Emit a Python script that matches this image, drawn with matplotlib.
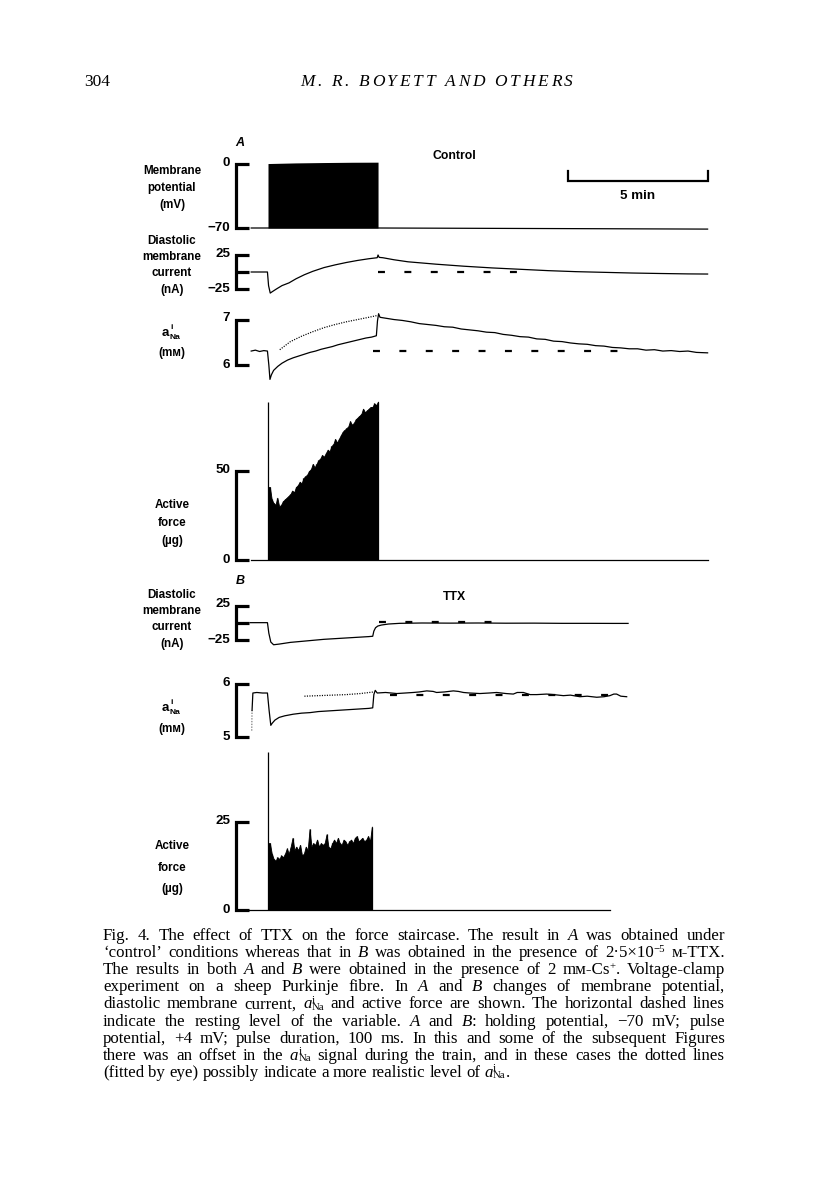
import re
import matplotlib
matplotlib.use('Agg')
import numpy as np
import matplotlib.pyplot as plt
from matplotlib.transforms import Affine2D, blended_transform_factory

plt.rcParams['lines.scale_dashes'] = False

# ---------------------------------------------------------------- data
# time in minutes from start of pulse train
# Panel A (control)
potA_t = [-0.6, 0.0, 3.93, 8.0, 12.0, 15.7]
potA_v = [-70, -70, -70, -70.4, -70.8, -71.2]
pulseA_t = [0.0, 1.0, 2.0, 3.0, 3.93]
pulseA_v = [0.5, 1.2, 1.6, 1.9, 2.0]

curA_t = [-0.6, -0.02, 0.02, 0.08, 0.15, 0.3, 0.5, 0.75, 1.0, 1.3,
          1.6, 2.0, 2.4, 2.8, 3.2, 3.6, 3.9, 3.93, 3.97, 4.1,
          4.5, 5.0, 6.0, 7.0, 8.0, 9.0, 10.0, 11.0, 12.0, 13.0,
          14.0, 15.0, 15.7]
curA_v = [0, 0, -20, -31, -29, -25, -20, -16, -10, -4,
          1, 6.5, 10.5, 14, 17, 19.5, 21, 25, 21.5, 21,
          18, 15, 11.5, 8.5, 6, 4, 2, 0.5, -0.5, -1.5,
          -2.2, -2.8, -3]

naA_t = [-0.6, -0.45, -0.3, -0.15, -0.02, 0.03, 0.07, 0.12, 0.2, 0.35,
         0.5, 0.7, 0.9, 1.1, 1.3, 1.5, 1.7, 1.9, 2.1, 2.3,
         2.5, 2.7, 2.9, 3.1, 3.3, 3.5, 3.7, 3.87, 3.91, 3.95,
         4.0, 4.2, 4.5, 4.8, 5.1, 5.4, 5.7, 6.0, 6.3, 6.6,
         6.9, 7.2, 7.5, 7.8, 8.1, 8.4, 8.7, 9.0, 9.3, 9.6,
         9.9, 10.2, 10.5, 10.8, 11.1, 11.4, 11.7, 12.0, 12.3, 12.6,
         12.9, 13.2, 13.5, 13.8, 14.1, 14.4, 14.7, 15.0, 15.3, 15.7]
naA_v = [6.31, 6.33, 6.30, 6.32, 6.31, 6.00, 5.68, 5.78, 5.88, 5.97,
         6.04, 6.11, 6.16, 6.20, 6.24, 6.28, 6.31, 6.35, 6.38, 6.41,
         6.45, 6.48, 6.51, 6.54, 6.57, 6.60, 6.62, 6.65, 6.98, 7.14,
         7.06, 7.04, 7.01, 6.99, 6.96, 6.92, 6.90, 6.88, 6.85, 6.84,
         6.80, 6.78, 6.76, 6.73, 6.72, 6.68, 6.66, 6.63, 6.62, 6.58,
         6.57, 6.53, 6.52, 6.49, 6.47, 6.46, 6.43, 6.42, 6.39, 6.38,
         6.36, 6.36, 6.33, 6.34, 6.31, 6.32, 6.30, 6.31, 6.28, 6.27]
dotA_t = [0.42, 0.8, 1.2, 1.6, 2.0, 2.4, 2.8, 3.2, 3.6, 3.9]
dotA_v = [6.34, 6.52, 6.64, 6.74, 6.83, 6.90, 6.96, 7.01, 7.06, 7.10]

forceA_end = 3.93
forceA_v = [89, 41, 34, 32, 31, 35, 30, 31, 33, 34,
            35, 36, 37, 39, 38, 41, 42, 44, 43, 46,
            47, 48, 50, 51, 54, 52, 54, 56, 57, 59,
            58, 60, 62, 61, 64, 65, 68, 66, 68, 70,
            72, 73, 74, 75, 78, 76, 77, 79, 80, 81,
            82, 85, 83, 84, 85, 86, 86, 88, 87, 89]
forceA_base_t = [-0.6, 15.7]

# Panel B (TTX)
curB_t = [-0.64, -0.02, 0.03, 0.1, 0.2, 0.4, 0.8, 1.2, 1.6, 2.0,
          2.4, 2.8, 3.2, 3.6, 3.74, 3.78, 3.84, 3.92, 4.05, 4.3,
          4.7, 5.5, 6.5, 7.5, 8.5, 9.5, 10.5, 11.5, 12.3, 12.86]
curB_v = [0.5, 0.5, -15, -28, -32, -31, -28.5, -27, -25.5, -24,
          -23, -22, -21, -20, -19.5, -12, -7, -4.5, -3, -1.5,
          -0.5, 0, -0.2, 0, -0.3, -0.2, -0.5, -0.5, -0.6, -0.6]

naB_faint_t = [-0.58, -0.57]
naB_faint_v = [5.12, 5.50]
naB_t = [-0.57, -0.54, -0.40, -0.2, -0.02, 0.04, 0.1, 0.15, 0.25, 0.4,
         0.6, 0.9, 1.2, 1.5, 1.8, 2.1, 2.4, 2.7, 3.0, 3.3,
         3.6, 3.74, 3.78, 3.83, 3.9, 4.2, 4.6, 4.9, 5.19, 5.4,
         5.67, 5.9, 6.02, 6.3, 6.62, 6.8, 6.98, 7.2, 7.57, 7.9,
         8.17, 8.5, 8.76, 8.9, 9.12, 9.36, 9.6, 9.95, 10.2, 10.55,
         10.8, 11.14, 11.4, 11.74, 12.0, 12.21, 12.35, 12.45, 12.6, 12.81]
naB_v = [5.50, 5.83, 5.84, 5.83, 5.83, 5.50, 5.22, 5.26, 5.32, 5.37,
         5.40, 5.43, 5.45, 5.46, 5.48, 5.49, 5.50, 5.51, 5.52, 5.53,
         5.54, 5.55, 5.80, 5.88, 5.83, 5.84, 5.82, 5.83, 5.84, 5.85,
         5.87, 5.86, 5.84, 5.85, 5.87, 5.86, 5.84, 5.83, 5.82, 5.83,
         5.84, 5.82, 5.81, 5.84, 5.84, 5.80, 5.80, 5.81, 5.80, 5.78,
         5.79, 5.76, 5.77, 5.75, 5.76, 5.78, 5.81, 5.81, 5.77, 5.76]
dotB_t = [1.3, 1.8, 2.3, 2.8, 3.3, 3.78]
dotB_v = [5.77, 5.78, 5.79, 5.80, 5.82, 5.85]

forceB_end = 3.71
forceB_v = [45, 19, 16, 14.5, 14, 15, 14.5, 15.5, 15, 16,
            17.5, 16, 18, 20.5, 17, 18, 17, 18.5, 15.5, 16,
            18, 17, 23, 18, 19, 18.5, 20, 18, 19, 18.5,
            19, 21.5, 18, 17.5, 19, 20, 19, 20.5, 19, 18.5,
            20, 19.5, 18.5, 19.5, 20, 19, 20.5, 21, 19.5, 20,
            20.5, 19.5, 20, 21, 19.5, 23.7]
forceB_base_t = [-0.71, 12.2]

# resting levels (dashed lines): (t_start, t_end, level)
restA_cur = (3.93, 9.0, 0.0)
restA_na = (3.75, 12.6, 6.30)
restB_cur = (3.95, 8.1, 0.8)
restB_na = (4.35, 12.3, 5.79)

scalebar_min = 5

# caption markup: {i:..} italic, {^:..} superscript, {s:..} stacked sup/sub "sup|sub"
caption_lines = [
    "Fig. 4. The effect of TTX on the force staircase. The result in {i:A} was obtained under",
    "\u2018control\u2019 conditions whereas that in {i:B} was obtained in the presence of 2\u00b75\u00d710{^:\u22125} \u043c-TTX.",
    "The results in both {i:A} and {i:B} were obtained in the presence of 2 m\u043c-Cs{^:+}. Voltage-clamp",
    "experiment on a sheep Purkinje fibre. In {i:A} and {i:B} changes of membrane potential,",
    "diastolic membrane current, {i:a}{s:i|Na} and active force are shown. The horizontal dashed lines",
    "indicate the resting level of the variable. {i:A} and {i:B}: holding potential, \u221270 mV; pulse",
    "potential, +4 mV; pulse duration, 100 ms. In this and some of the subsequent Figures",
    "there was an offset in the {i:a}{s:i|Na} signal during the train, and in these cases the dotted lines",
    "(fitted by eye) possibly indicate a more realistic level of {i:a}{s:i|Na}.",
]

# ---------------------------------------------------------------- layout
W, H = 816, 1181
fig = plt.figure(figsize=(W / 100, H / 100), dpi=100)
PX = Affine2D().scale(1.0 / W, -1.0 / H).translate(0, 1) + fig.transFigure
renderer = fig.canvas.get_renderer()

T0_PX, PX_PER_MIN = 268.0, 28.0
XL, XR = 150.0, 740.0
SANS = ['Liberation Sans', 'DejaVu Sans']
SERIF = ['Liberation Serif', 'DejaVu Serif']
LAB = dict(family=SANS, weight='bold', fontsize=8.4, transform=PX)
TICK = dict(family=SANS, weight='bold', fontsize=9.6, transform=PX)


def t_of(px):
    return (px - T0_PX) / PX_PER_MIN


def make_panel(y_hi_px, v_hi, y_lo_px, v_lo, pad=50):
    k = (y_lo_px - y_hi_px) / (v_hi - v_lo)
    top, bot = y_hi_px - pad, y_lo_px + pad
    ax = fig.add_axes([XL / W, 1 - bot / H, (XR - XL) / W, (bot - top) / H])
    ax.set_xlim(t_of(XL), t_of(XR))
    ax.set_ylim(v_lo - pad / k, v_hi + pad / k)
    ax.set_axis_off()
    ax.patch.set_alpha(0)
    return ax


def bracket(ax, v_hi, v_lo, mid=None):
    x0, x1 = t_of(236), t_of(249)
    kw = dict(color='k', lw=2.3, solid_joinstyle='miter', solid_capstyle='butt', clip_on=False)
    ax.plot([x1, x0, x0, x1], [v_hi, v_hi, v_lo, v_lo], **kw)
    if mid is not None:
        ax.plot([x0, x1], [mid, mid], **kw)


def ticklab(s, y):
    fig.text(230, y, s, ha='right', va='center', **TICK)


def label_block(lines, ys, x=172):
    for s, y in zip(lines, ys):
        fig.text(x, y, s, ha='center', va='center', **LAB)


def ana_label(y):
    fig.text(169, y + 3, "a", ha='right', va='baseline', **dict(LAB, fontsize=9.5))
    fig.text(170, y - 4, "i", ha='left', va='baseline', **dict(LAB, fontsize=6.0))
    fig.text(170, y + 6, "Na", ha='left', va='baseline', **dict(LAB, fontsize=6.0))


TRACE = dict(color='k', lw=0.9, solid_joinstyle='round', clip_on=False)
DASH = dict(color='k', lw=1.6, linestyle=(0, (5.0, 14.0)), clip_on=False)
DOT = dict(color='k', lw=0.9, linestyle=(0, (0.8, 1.0)), clip_on=False)


def dashed(ax, rest):
    ax.plot([rest[0], rest[1]], [rest[2], rest[2]], **DASH)


def force(ax, values, t_end):
    beats = np.linspace(0, t_end, len(values))
    xs = [beats[0]] + list(beats[1:])
    ys = [values[1]] + list(values[1:])
    ax.fill_between(xs, 0, ys, color='k', lw=0.6, edgecolor='k', clip_on=False)
    ax.vlines(beats, 0, values, color='k', lw=0.9, clip_on=False)


# header
fig.text(84, 86, "304", family=SERIF, fontsize=12.5, transform=PX, ha='left', va='baseline')
head = "M. R. BOYETT AND OTHERS"
HKW = dict(family=SERIF, style='italic', fontsize=12.5, transform=PX, ha='left', va='baseline')
htexts = [fig.text(0, 86, c, **HKW) for c in head]
hw = [t.get_window_extent(renderer).width if c != ' ' else 4.0 for t, c in zip(htexts, head)]
track = (573 - 300 - sum(hw)) / (len(head) - 1)
hx = 300.0
for t, w in zip(htexts, hw):
    t.set_x(hx)
    hx += w + track

# ---------------- Panel A
fig.text(240, 143, "A", family=SANS, weight='bold', style='italic', fontsize=9,
         transform=PX, ha='center', va='center')
fig.text(454, 156, "Control", ha='center', va='center', **dict(LAB, fontsize=8.8))

# A1 membrane potential
axA1 = make_panel(164, 0, 228, -70)
bracket(axA1, 0, -70)
axA1.plot(potA_t, potA_v, **TRACE)
axA1.fill_between(pulseA_t, -70, pulseA_v, color='k', lw=0)
ticklab("0", 163)
ticklab("\u221270", 228)
label_block(["Membrane", "potential", "(mV)"], [171, 188, 205])

# scale bar
sb = blended_transform_factory(axA1.transData, PX)
sb_t0 = t_of(568)
axA1.plot([sb_t0, sb_t0, sb_t0 + scalebar_min, sb_t0 + scalebar_min], [171, 181, 181, 171],
          color='k', lw=1.6, transform=sb, clip_on=False, solid_joinstyle='miter')
fig.text(638, 196, "5 min", ha='center', va='center', **dict(LAB, fontsize=9.6))

# A2 diastolic membrane current
axA2 = make_panel(255, 25, 289, -25)
bracket(axA2, 25, -25, 0)
axA2.plot(curA_t, curA_v, **TRACE)
dashed(axA2, restA_cur)
ticklab("25", 254)
ticklab("\u221225", 289)
label_block(["Diastolic", "membrane", "current", "(nA)"], [241, 257, 273, 290])

# A3 aNa
axA3 = make_panel(320, 7, 365, 6)
bracket(axA3, 7, 6)
axA3.plot(naA_t, naA_v, **TRACE)
axA3.plot(dotA_t, dotA_v, **DOT)
dashed(axA3, restA_na)
ticklab("7", 318)
ticklab("6", 365)
ana_label(333)
fig.text(172, 353, "(m\u043c)", ha='center', va='center', **LAB)

# A4 active force
axA4 = make_panel(471, 50, 560, 0)
bracket(axA4, 50, 0)
force(axA4, forceA_v, forceA_end)
axA4.plot(forceA_base_t, [0, 0], **TRACE)
ticklab("50", 470)
ticklab("0", 560)
label_block(["Active", "force", "(\u00b5g)"], [505, 523, 541])

# ---------------- Panel B
fig.text(240, 581, "B", family=SANS, weight='bold', style='italic', fontsize=9,
         transform=PX, ha='center', va='center')
fig.text(454, 597, "TTX", ha='center', va='center', **dict(LAB, fontsize=8.8))

axB1 = make_panel(606, 25, 640, -25)
bracket(axB1, 25, -25, 0)
axB1.plot(curB_t, curB_v, **TRACE)
dashed(axB1, restB_cur)
ticklab("25", 604)
ticklab("\u221225", 640)
label_block(["Diastolic", "membrane", "current", "(nA)"], [595, 611, 627, 644])

axB2 = make_panel(684, 6, 737, 5)
bracket(axB2, 6, 5)
axB2.plot(naB_faint_t, naB_faint_v, color='0.45', lw=0.8, linestyle=(0, (1.0, 1.0)))
axB2.plot(naB_t, naB_v, **TRACE)
axB2.plot(dotB_t, dotB_v, **DOT)
dashed(axB2, restB_na)
ticklab("6", 683)
ticklab("5", 737)
ana_label(708)
fig.text(172, 729, "(m\u043c)", ha='center', va='center', **LAB)

axB3 = make_panel(822, 25, 910, 0)
bracket(axB3, 25, 0)
force(axB3, forceB_v, forceB_end)
axB3.plot(forceB_base_t, [0, 0], **TRACE)
ticklab("25", 821)
ticklab("0", 910)
label_block(["Active", "force", "(\u00b5g)"], [846, 868, 889])

# ---------------- caption (justified, composed from plain text pieces)
CAP_FS = 12.2
SMALL_FS = 7.8
L_PX, R_PX = 103, 725
SEG_RE = re.compile(r'\{(i|\^|s):([^}]*)\}|([^{]+)')


def make_word(word, y):
    """Create text pieces for one word; return list of (text, dx) and width."""
    pieces = []
    x = 0.0
    for kind, body, plain in SEG_RE.findall(word):
        if plain:
            kind, body = 'n', plain
        if kind == '^':
            t = fig.text(0, y - 5.0, body, family=SERIF, fontsize=SMALL_FS, transform=PX,
                         ha='left', va='baseline')
        elif kind == 's':
            # stacked superscript over subscript in one text object
            t = fig.text(0, y - 12.6, body.replace('|', '\n'), family=SERIF, fontsize=SMALL_FS,
                         transform=PX, ha='left', va='top', linespacing=0.72,
                         multialignment='left')
        else:
            t = fig.text(0, y, body, family=SERIF, fontsize=CAP_FS, transform=PX,
                         style='italic' if kind == 'i' else 'normal', ha='left', va='baseline')
        w = t.get_window_extent(renderer).width
        pieces.append((t, x))
        x += w
    return pieces, x


for i, line in enumerate(caption_lines):
    y = 940 + 17.1 * i
    words = [make_word(w, y) for w in line.split(' ')]
    total = sum(w for _, w in words)
    if i < len(caption_lines) - 1:
        gap = (R_PX - L_PX - total) / (len(words) - 1)
    else:
        gap = 4.2
    x = L_PX
    for pieces, w in words:
        for t, dx in pieces:
            t.set_x(x + dx)
        x += w + gap

fig.savefig("out.png", dpi=100)
